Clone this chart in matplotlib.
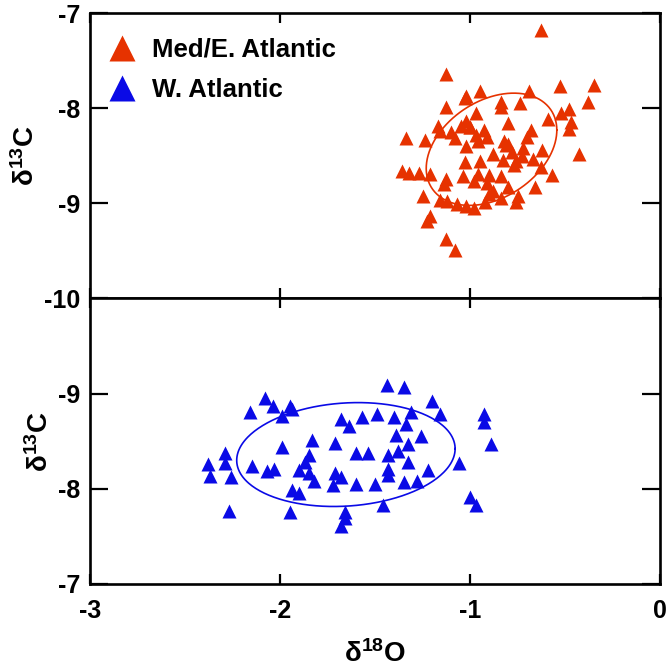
import numpy as np
import matplotlib
matplotlib.use('Agg')
import matplotlib.pyplot as plt

# values (d18O, d13C)
med_d18o = [-0.63, -1.13, -0.53, -0.35, -0.38, -0.95, -1.02, -1.03, -0.69, -0.84,
            -0.84, -0.74, -1.13, -0.59, -0.52, -0.48, -0.47, -0.48, -1.17, -1.16,
            -0.80, -0.97, -1.02, -1.00, -0.93, -1.10, -1.08, -1.34, -1.24, -0.68,
            -0.70, -0.82, -0.80, -0.96, -1.02, -0.43, -0.62, -0.88, -0.78, -0.73,
            -0.67, -0.83, -0.77, -0.63, -1.03, -0.95, -1.36, -1.32, -1.27, -1.21,
            -1.04, -0.96, -0.90, -0.84, -0.57, -1.13, -1.14, -0.98, -0.91, -0.80,
            -0.66, -0.88, -1.25, -1.16, -1.12, -1.07, -1.02, -0.98, -0.92, -0.84,
            -0.76, -0.75, -1.21, -1.23, -1.13, -1.08, -0.81, -0.76, -1.00, -0.97,
            -0.91, -1.05, -0.90, -0.72]
med_d13c = [-7.18, -7.64, -7.77, -7.76, -7.93, -7.82, -7.87, -7.89, -7.82, -7.93,
            -7.99, -7.95, -7.99, -8.11, -8.05, -8.01, -8.15, -8.22, -8.19, -8.24,
            -8.16, -8.05, -8.13, -8.20, -8.23, -8.25, -8.31, -8.31, -8.33, -8.23,
            -8.30, -8.34, -8.38, -8.35, -8.40, -8.48, -8.44, -8.48, -8.46, -8.50,
            -8.53, -8.54, -8.60, -8.62, -8.57, -8.55, -8.66, -8.68, -8.68, -8.69,
            -8.71, -8.69, -8.70, -8.71, -8.70, -8.74, -8.80, -8.77, -8.79, -8.83,
            -8.83, -8.87, -8.92, -8.97, -8.98, -9.01, -9.03, -9.05, -8.99, -8.94,
            -8.99, -8.92, -9.13, -9.19, -9.37, -9.49, -8.39, -8.55, -8.20, -8.28,
            -8.30, -8.19, -8.90, -8.42]

wat_d18o = [-1.44, -1.35, -2.08, -2.04, -1.95, -1.94, -1.99, -2.16, -1.20, -1.16,
            -1.31, -0.93, -0.93, -0.89, -1.68, -1.64, -1.57, -1.49, -1.40, -1.34,
            -1.39, -1.26, -1.33, -1.38, -1.43, -1.33, -1.43, -1.43, -1.22, -1.06,
            -1.35, -1.28, -1.50, -1.60, -1.71, -1.68, -1.72, -1.71, -1.83, -1.60,
            -1.54, -1.85, -1.87, -1.90, -1.85, -1.82, -1.99, -2.15, -2.07, -2.03,
            -1.94, -1.90, -1.95, -1.66, -1.66, -1.68, -1.46, -2.29, -2.29, -2.38,
            -2.37, -2.26, -2.27, -1.00, -0.97]
wat_d13c = [-9.09, -9.07, -8.95, -8.87, -8.87, -8.84, -8.77, -8.81, -8.92, -8.79,
            -8.81, -8.79, -8.70, -8.47, -8.73, -8.66, -8.75, -8.79, -8.75, -8.68,
            -8.57, -8.55, -8.47, -8.40, -8.35, -8.28, -8.21, -8.14, -8.20, -8.27,
            -8.07, -8.08, -8.05, -8.05, -8.17, -8.12, -8.04, -8.48, -8.51, -8.38,
            -8.38, -8.35, -8.28, -8.20, -8.17, -8.08, -8.44, -8.24, -8.19, -8.21,
            -7.99, -7.96, -7.76, -7.76, -7.69, -7.61, -7.83, -8.38, -8.27, -8.26,
            -8.13, -8.12, -7.77, -7.91, -7.83]

# ellipses: centre and shape matrix [[xx, xy], [xy, yy]]
med_ell_center = [-0.888, -8.432]
med_ell_shape = [[0.118, 0.069], [0.069, 0.348]]
wat_ell_center = [-1.654, -8.36]
wat_ell_shape = [[0.330, -0.035], [-0.035, 0.298]]

x_ticks = [-3, -2, -1, 0]
top_yticks = [-7, -8, -9, -10]
bot_yticks = [-9, -8, -7]

red = '#e63200'
blue = '#0a0ae6'

plt.rcParams['font.family'] = ['Liberation Sans', 'DejaVu Sans']
plt.rcParams['font.weight'] = 'bold'
plt.rcParams['axes.unicode_minus'] = False
plt.rcParams['mathtext.default'] = 'regular'


def ellipse_xy(center, shape):
    L = np.linalg.cholesky(np.array(shape))
    t = np.linspace(0, 2 * np.pi, 300)
    pts = L @ np.vstack([np.cos(t), np.sin(t)])
    return pts[0] + center[0], pts[1] + center[1]


def style_ax(ax):
    for s in ax.spines.values():
        s.set_linewidth(1.9)
    ax.tick_params(axis='both', direction='in', top=True, right=True,
                   width=1.6, labelsize=18)
    ax.tick_params(axis='y', length=13, pad=7)
    ax.tick_params(axis='x', length=7, pad=11)
    for lab in ax.get_xticklabels() + ax.get_yticklabels():
        lab.set_fontweight('bold')


fig = plt.figure(figsize=(6.67, 6.67), dpi=100)
ax1 = fig.add_axes([0.135, 0.5525, 0.855, 0.4280])
ax2 = fig.add_axes([0.135, 0.1245, 0.855, 0.4280])

ax1.plot(med_d18o, med_d13c, '^', color=red, ms=10.5, mec='none', label='Med/E. Atlantic')
ax1.plot([], [], '^', color=blue, ms=10.5, mec='none', label='W. Atlantic')
ex, ey = ellipse_xy(med_ell_center, med_ell_shape)
ax1.plot(ex, ey, color=red, lw=1.2)
ax1.set_xlim(-3, 0)
ax1.set_ylim(-10, -7)
ax1.set_yticks(top_yticks)
ax1.set_xticks(x_ticks)
ax1.tick_params(axis='x', labelbottom=False)
ax1.set_ylabel(r'$\delta^{13}$C', fontsize=20, fontweight='bold', labelpad=3)
style_ax(ax1)
ax1.legend(loc='upper left', bbox_to_anchor=(0, 0.975), frameon=False,
           fontsize=18.5, markerscale=1.8, handlelength=1.15, handletextpad=0.58,
           borderpad=0.33, borderaxespad=0.35, labelspacing=0.62, numpoints=1)

ax2.plot(wat_d18o, wat_d13c, '^', color=blue, ms=10.5, mec='none')
ex, ey = ellipse_xy(wat_ell_center, wat_ell_shape)
ax2.plot(ex, ey, color=blue, lw=1.2)
ax2.set_xlim(-3, 0)
ax2.set_ylim(-7, -10)
ax2.set_yticks(bot_yticks)
ax2.set_xticks(x_ticks)
ax2.set_xlabel(r'$\delta^{18}$O', fontsize=20, fontweight='bold', labelpad=12)
ax2.set_ylabel(r'$\delta^{13}$C', fontsize=20, fontweight='bold', labelpad=3)
style_ax(ax2)

fig.savefig('out.png', dpi=100)
